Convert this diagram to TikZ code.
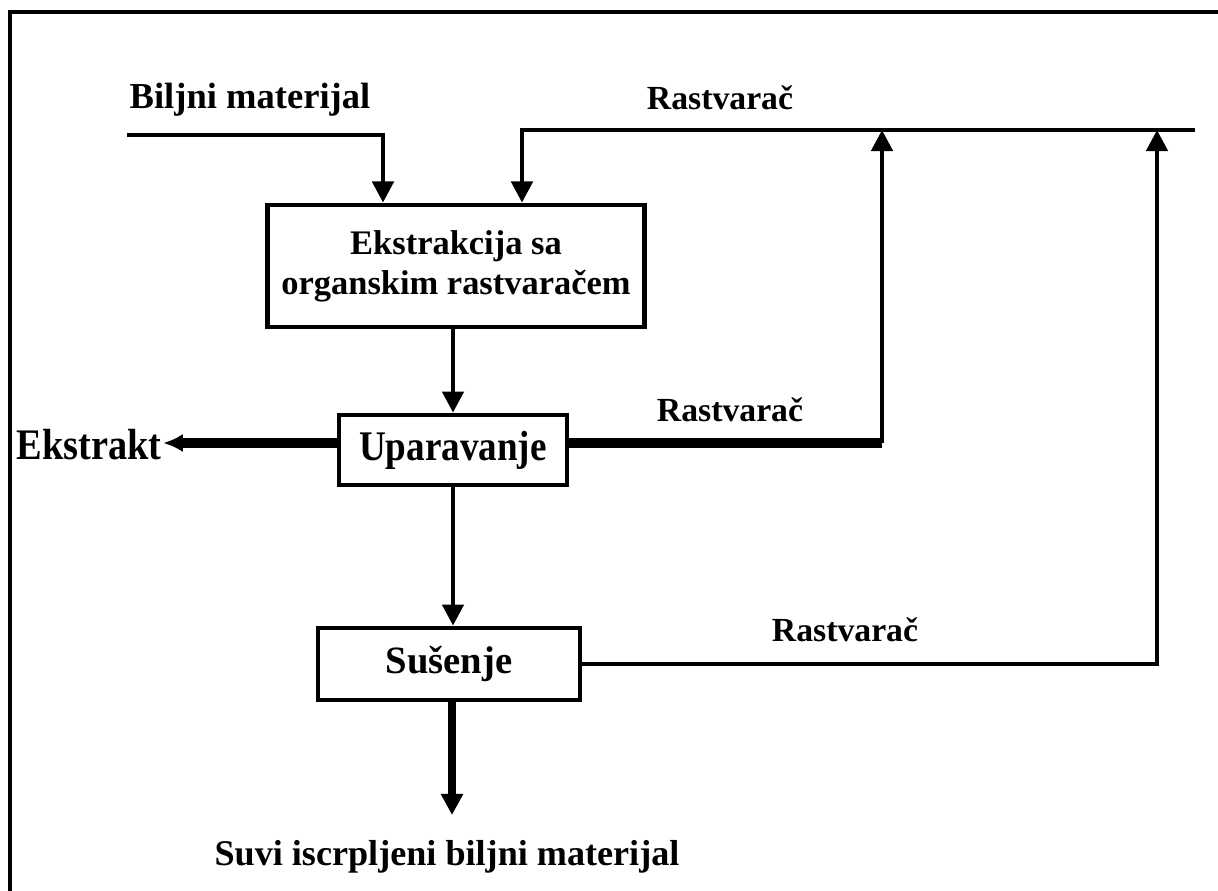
\documentclass[tikz,border=0pt]{standalone}
\usepackage{fontspec}
\setmainfont{Liberation Serif}
\newfontfamily\cnd[FakeStretch=0.88]{Liberation Serif}
\usetikzlibrary{positioning,arrows.meta}
\def\thin{3.2pt}
\def\thick{6.5pt}
\tikzset{
	box/.style={draw,rectangle,line width=3.4pt,inner sep=0pt,align=center},
	ln/.style={line width=\thin},
	fat/.style={line width=\thick},
	tip/.style={-{Triangle[length=15pt,width=15pt]}},
	lbl/.style={inner sep=1pt,font=\bfseries\fontsize{24}{28}\selectfont},
}
\begin{document}
\begin{tikzpicture}[x=0.025cm,y=-0.025cm]
\useasboundingbox (0,0) rectangle (1218,891);
% frame
\draw[line width=3pt] (10,891) -- (10,12) -- (1218,12);

% process boxes
\node[box,minimum width=9.425cm,minimum height=3.05cm,font=\bfseries\fontsize{24.5}{28.5}\selectfont] (ekstr) at (456,266) {Ekstrakcija sa\\organskim rastvara\v{c}em};
\node[box,minimum width=5.7cm,minimum height=1.75cm,font=\cnd\bfseries\fontsize{30}{34}\selectfont] (upar) at (453,450) {Uparavanje};
\node[box,minimum width=6.55cm,minimum height=1.8cm,font=\bfseries\fontsize{27.5}{32}\selectfont] (sus) at (449,664) {Su\v{s}enje};

% labels
\node[lbl,font=\bfseries\fontsize{26}{30}\selectfont] (bilj) at (250,100) {Biljni materijal};
\node[lbl] (rs1) at (720,98) {Rastvara\v{c}};
\node[lbl] (rs2) at (730,410) {Rastvara\v{c}};
\node[lbl] (rs3) at (845,630) {Rastvara\v{c}};
\node[lbl,font=\cnd\bfseries\fontsize{31}{34}\selectfont] (ekst) at (89,445) {Ekstrakt};
\node[lbl,font=\bfseries\fontsize{25.7}{30}\selectfont] (out) at (447,857) {Suvi iscrpljeni biljni materijal};

% junctions
\coordinate (bm) at (127,135);
\coordinate (in1) at (383,0);
\coordinate (r0) at (1195,130);
\coordinate (in2) at (522,0);
\coordinate (j1) at (882,130);
\coordinate (j2) at (1157,130);
\coordinate (c1) at (882,443);
\coordinate (o1) at (452,815);

\draw[ln,tip] (bm) -| (ekstr.north -| in1);
\draw[ln,tip] (r0) -| (ekstr.north -| in2);
\draw[ln,tip] (ekstr.south -| upar.north) -- (upar.north);
\draw[fat,-{Latex[length=14pt,width=13pt]}] (upar.west |- c1) -- (ekst.east |- c1);
\draw[fat] (upar.east |- c1) -- (c1);
\draw[ln,tip] (c1) -- (j1);
\draw[ln,tip] (upar.south) -- (upar.south |- sus.north);
\draw[ln,tip] (sus.east) -| (j2);
\draw[line width=5pt,tip] (sus.south -| o1) -- (o1);
\end{tikzpicture}
\end{document}
